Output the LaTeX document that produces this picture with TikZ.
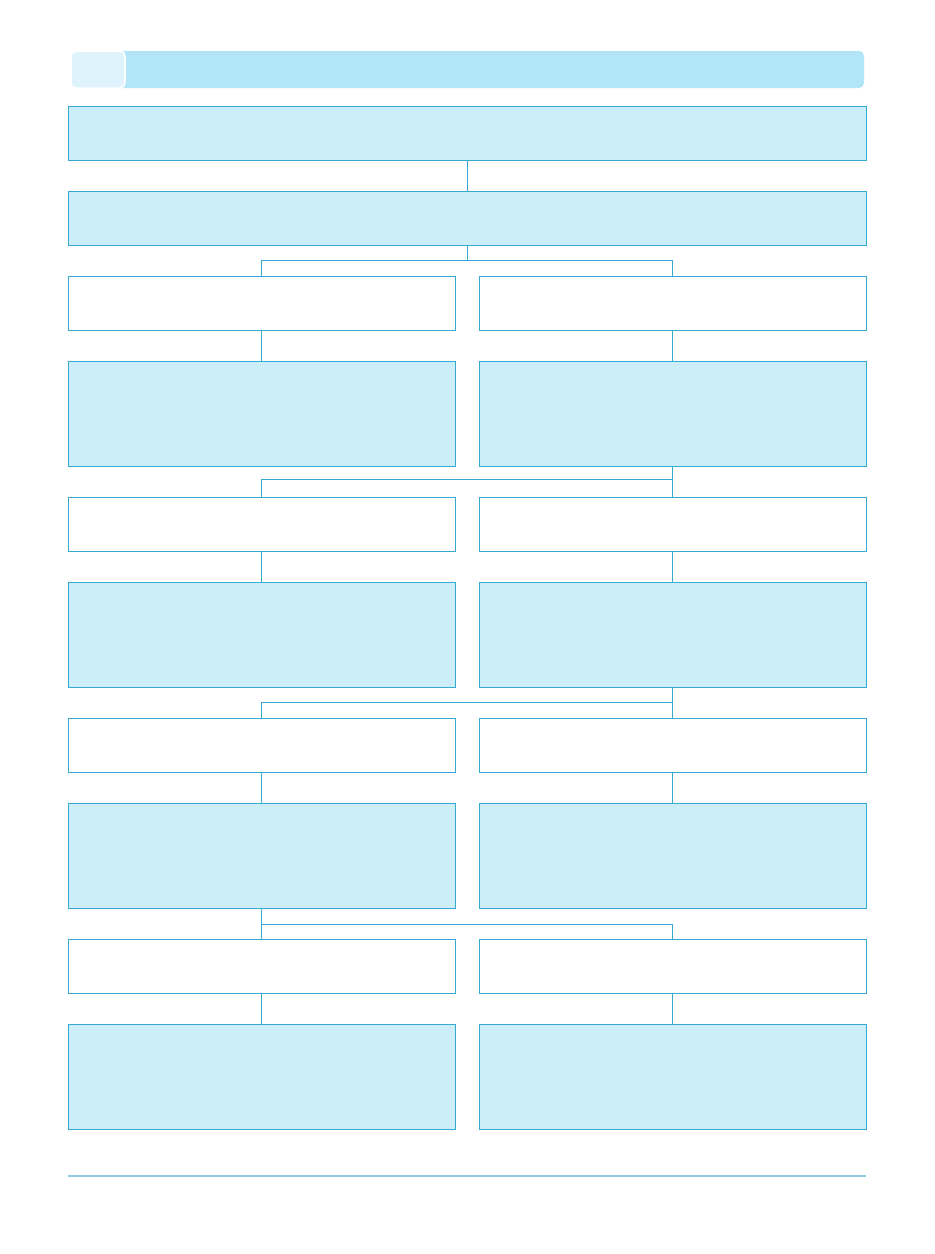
\documentclass[tikz,border=0pt]{standalone}
\usetikzlibrary{positioning}
\definecolor{frame}{RGB}{52,170,208}
\definecolor{boxfill}{RGB}{204,238,250}
\definecolor{headbar}{RGB}{179,229,249}
\definecolor{headtab}{RGB}{223,243,252}
\definecolor{footline}{RGB}{140,205,226}
\tikzset{
    cell/.style = {draw=frame, line width=1pt, inner sep=0pt, outer sep=0pt},
    widebox/.style = {cell, fill=boxfill, minimum width=798pt, minimum height=54pt},
    plainbox/.style = {cell, fill=white, minimum width=387pt, minimum height=54pt},
    tallbox/.style = {cell, fill=boxfill, minimum width=387pt, minimum height=105pt},
    link/.style = {draw=frame, line width=1pt}
}
\begin{document}
\begin{tikzpicture}[x=1pt, y=-1pt, node distance=31pt]
        \useasboundingbox (0,0) rectangle (935,1254);
        % header bar
        \fill [headbar, rounded corners=5pt] (71,51) rectangle (864,88);
        \filldraw [headtab, draw=white, line width=1.5pt, rounded corners=5pt] (71,51) rectangle (125,88);
        % top boxes
        \node [widebox] (top) at (467,133) {};
        \node [widebox, below=31pt of top] (main) {};
        % left column
        \node [plainbox] (l1) at (261.5,303) {};
        \node [tallbox, below=of l1] (l2) {};
        \node [plainbox, below=of l2] (l3) {};
        \node [tallbox, below=of l3] (l4) {};
        \node [plainbox, below=of l4] (l5) {};
        \node [tallbox, below=of l5] (l6) {};
        \node [plainbox, below=of l6] (l7) {};
        \node [tallbox, below=of l7] (l8) {};
        % right column
        \node [plainbox] (r1) at (672.5,303) {};
        \foreach \a/\b/\s in {r1/r2/tallbox, r2/r3/plainbox, r3/r4/tallbox, r4/r5/plainbox, r5/r6/tallbox, r6/r7/plainbox, r7/r8/tallbox}
            \node [\s, below=of \a] (\b) {};
        % straight links
        \draw [link] (top) -- (main);
        \foreach \a/\b in {l1/l2, l3/l4, l5/l6, l7/l8, r1/r2, r2/r3, r3/r4, r4/r5, r5/r6, r7/r8, l6/l7}
            \draw [link] (\a.south) -- (\b.north);
        % branches
        \draw [link] (main.south) -- ++(0,15.5) coordinate (j1);
        \draw [link] (l1.north) |- (j1) -| (r1.north);
        \path (r2.south) -- ++(0,13.5) coordinate (j2);
        \draw [link] (l3.north) |- (j2);
        \path (r4.south) -- ++(0,15.5) coordinate (j3);
        \draw [link] (l5.north) |- (j3);
        \path (l6.south) -- ++(0,16.5) coordinate (j4);
        \draw [link] (j4) -| (r7.north);
        % footer rule
        \draw [footline, line width=1.5pt] (68,1176) -- (866,1176);
    \end{tikzpicture}
\end{document}
